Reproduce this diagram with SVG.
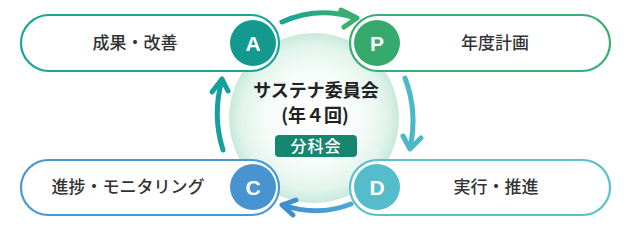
<svg xmlns="http://www.w3.org/2000/svg" width="630" height="235" viewBox="0 0 630 235">
<style>
.box{fill:#fff;stroke-width:2.2}
.lbl{font-family:"Noto Sans CJK JP","Noto Sans",sans-serif;font-size:17px;fill:#333;text-anchor:middle;font-weight:500}
.let{font-family:"Liberation Sans","Noto Sans",sans-serif;font-size:21px;font-weight:bold;fill:#fff;text-anchor:middle}
.ctr{font-family:"Noto Sans CJK JP","Noto Sans",sans-serif;font-size:18px;font-weight:bold;fill:#222;text-anchor:middle}
.arr{fill:none;stroke-width:5;stroke-linecap:round;stroke-linejoin:round}
</style>
<defs>
<radialGradient id="cg" cx="0.5" cy="0.5" r="0.5">
<stop offset="0" stop-color="#ffffff"/>
<stop offset="0.55" stop-color="#f6fcf9"/>
<stop offset="0.85" stop-color="#e2f4ec"/>
<stop offset="1" stop-color="#c9e9dc"/>
</radialGradient>
<linearGradient id="gt" x1="0" y1="0" x2="1" y2="0"><stop offset="0" stop-color="#1aa596"/><stop offset="1" stop-color="#3aae6c"/></linearGradient>
<linearGradient id="gb" x1="1" y1="0" x2="0" y2="0"><stop offset="0" stop-color="#4aa8d6"/><stop offset="1" stop-color="#3f8fd0"/></linearGradient>
</defs>
<g id="center">
<circle cx="314" cy="118" r="85" fill="url(#cg)"/>
<text class="ctr" x="316" y="97">サステナ委員会</text>
<text class="ctr" x="315" y="122">(年４回)</text>
<rect x="275" y="135" width="82" height="22" rx="4" fill="#17866f"/>
<text class="lbl" x="316" y="152" style="fill:#fff;font-size:16px;letter-spacing:1px">分科会</text>
</g>
<g id="connectors">
<path class="arr" stroke="url(#gt)" d="M282,22 Q318,6 355,18"/>
<path class="arr" stroke="#3aae6c" d="M341,10 L357,18 L344,27"/>
<path class="arr" stroke="#4bb8c9" d="M405,78 Q418,112 410,148"/>
<path class="arr" stroke="#4bb8c9" d="M403,136 L410,149 L421,138"/>
<path class="arr" stroke="url(#gb)" d="M351,204 Q318,217 283,205"/>
<path class="arr" stroke="#3f8fd0" d="M296,200 L282,205 L293,215"/>
<path class="arr" stroke="#16a09c" d="M223,150 Q212,115 222,80"/>
<path class="arr" stroke="#16a09c" d="M212,92 L222,79 L228,91"/>
</g>
<g id="node-A">
<rect class="box" x="21" y="15" width="258" height="56" rx="28" stroke="#1ba29c"/>
<circle cx="253" cy="43" r="23" fill="#13998f"/>
<text class="let" x="253" y="51">A</text>
<text class="lbl" x="135" y="49">成果・改善</text>
</g>
<g id="node-P">
<rect class="box" x="350" y="15" width="260" height="56" rx="28" stroke="#3aae72"/>
<circle cx="377" cy="43" r="23" fill="#36a96c"/>
<text class="let" x="377" y="51">P</text>
<text class="lbl" x="495" y="49">年度計画</text>
</g>
<g id="node-C">
<rect class="box" x="21" y="160" width="258" height="55" rx="27.5" stroke="#4a98d2"/>
<circle cx="253" cy="187" r="23" fill="#4894d0"/>
<text class="let" x="253" y="195">C</text>
<text class="lbl" x="128" y="193">進捗・モニタリング</text>
</g>
<g id="node-D">
<rect class="box" x="350" y="160" width="260" height="55" rx="27.5" stroke="#5bbfcd"/>
<circle cx="377" cy="187" r="23" fill="#55bccb"/>
<text class="let" x="377" y="195">D</text>
<text class="lbl" x="496" y="193">実行・推進</text>
</g>
</svg>
